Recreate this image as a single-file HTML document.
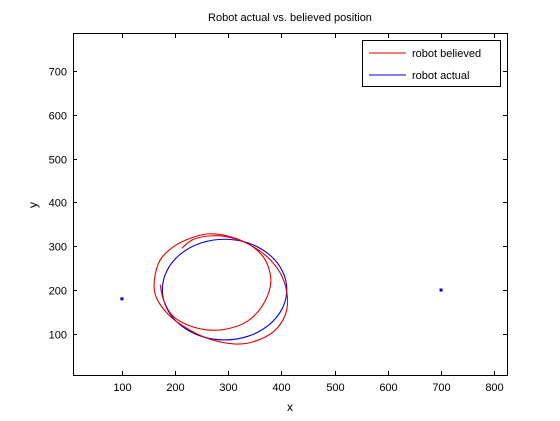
<!DOCTYPE html>
<html><head><meta charset="utf-8"><style>
html,body{margin:0;padding:0;background:#fff;}
svg{display:block;font-family:"Liberation Sans",sans-serif;}
</style></head><body>
<svg id="chart" width="560" height="421" viewBox="0 0 560 421">
<rect width="560" height="421" fill="#fff"/>
<text x="290" y="21" font-size="11" text-anchor="middle">Robot actual vs. believed position</text>
<g id="axes"></g>
<g id="series"></g>
<text x="290" y="411" font-size="12" text-anchor="middle">x</text>
<text x="37" y="205" font-size="12" text-anchor="middle" transform="rotate(-90 37 205)">y</text>
<g>
<rect x="362.5" y="40.5" width="138" height="46" fill="#fff" stroke="#000" stroke-width="1"/>
<line x1="369" y1="53" x2="406" y2="53" stroke="#e00000"/>
<text x="412" y="57" font-size="11">robot believed</text>
<line x1="369" y1="75" x2="406" y2="75" stroke="#0000e0"/>
<text x="412" y="79" font-size="11">robot actual</text>
</g>
</svg>
<script>
const xTicks=[100,200,300,400,500,600,700,800];
const yTicks=[100,200,300,400,500,600,700];
const believedX=[172,178,194,222,260,297,335,363,379,377,363,335,297,260,228,197,172,161,164,185,216,260,310,347,385,407,411,401,379,347,310,272,235,213];
const believedY=[212,178,143,121,109,111,128,162,208,246,280,307,324,328,318,299,269,223,185,147,117,90,77,82,105,143,185,231,269,299,318,324,316,296];
const actualCenter=[293,201];
const actualRadius=[117,115];
const landmarksX=[100,700];
const landmarksY=[180,200];
const xMin=8,xMax=824,yMin=6,yMax=787;
const L=73,R=507,T=33,B=375;
const sx=v=>L+(v-xMin)/(xMax-xMin)*(R-L);
const sy=v=>B-(v-yMin)/(yMax-yMin)*(B-T);
const NS="http://www.w3.org/2000/svg";
const axes=document.getElementById('axes'),ser=document.getElementById('series');
function mk(tag,attrs,parent){const e=document.createElementNS(NS,tag);for(const k in attrs)e.setAttribute(k,attrs[k]);parent.appendChild(e);return e;}
const frame=mk('rect',{x:L+.5,y:T+.5,width:R-L,height:B-T,fill:'none',stroke:'#000'},axes);


xTicks.forEach(t=>{const x=Math.round(sx(t))+.5;
mk('line',{x1:x,y1:B,x2:x,y2:B-4,stroke:'#000'},axes);
mk('line',{x1:x,y1:T+1,x2:x,y2:T+5,stroke:'#000'},axes);
const tx=mk('text',{x:x,y:B+16,'font-size':11,'text-anchor':'middle'},axes);tx.textContent=t;

});
yTicks.forEach(t=>{const y=Math.round(sy(t))+.5;
mk('line',{x1:L,y1:y,x2:L+4,y2:y,stroke:'#000'},axes);
mk('line',{x1:R,y1:y,x2:R-4,y2:y,stroke:'#000'},axes);
const tx=mk('text',{x:L-6,y:y+4,'font-size':11,'text-anchor':'end'},axes);tx.textContent=t;

});
// actual circle
const ac=mk('ellipse',{cx:sx(actualCenter[0]),cy:sy(actualCenter[1]),rx:sx(actualCenter[0]+actualRadius[0])-sx(actualCenter[0]),ry:sy(actualCenter[1])-sy(actualCenter[1]+actualRadius[1]),fill:'none',stroke:'#0000e0','stroke-width':1.1},ser);


// believed path (catmull-rom)
const P=believedX.map((x,i)=>[sx(x),sy(believedY[i])]);
let d='M'+P[0][0]+','+P[0][1];
for(let i=0;i<P.length-1;i++){const p0=P[Math.max(0,i-1)],p1=P[i],p2=P[i+1],p3=P[Math.min(P.length-1,i+2)];
d+=' C'+(p1[0]+(p2[0]-p0[0])/6)+','+(p1[1]+(p2[1]-p0[1])/6)+' '+(p2[0]-(p3[0]-p1[0])/6)+','+(p2[1]-(p3[1]-p1[1])/6)+' '+p2[0]+','+p2[1];}
const bp=mk('path',{d:d,fill:'none',stroke:'#e00000','stroke-width':1.1},ser);


landmarksX.forEach((x,i)=>{const m=mk('rect',{x:sx(x)-1.5,y:sy(landmarksY[i])-1.5,width:3,height:3,fill:'#0000e0'},ser);

});
</script>
</body></html>
